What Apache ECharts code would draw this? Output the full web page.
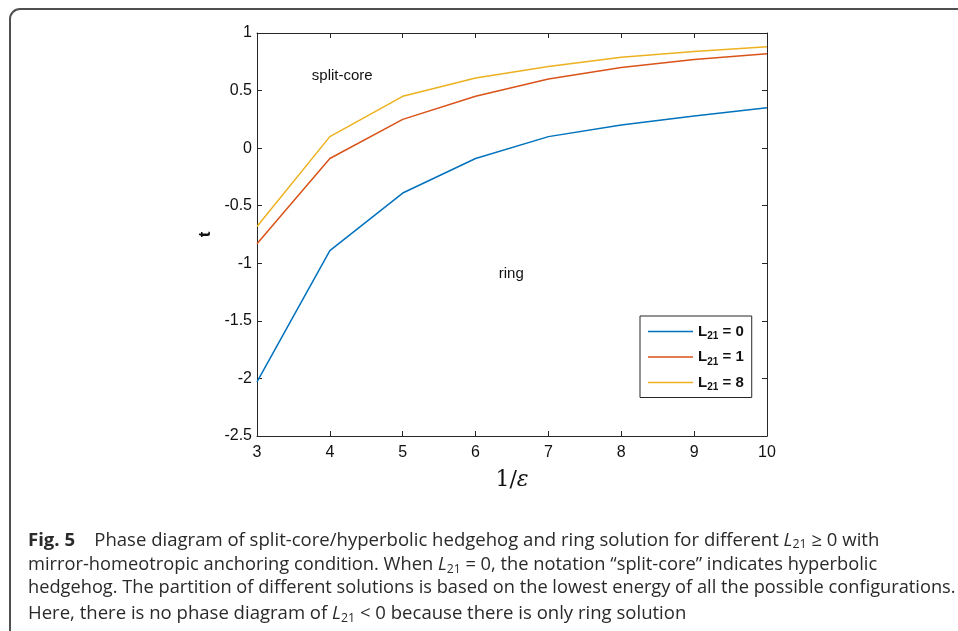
<!DOCTYPE html>
<html>
<head>
<meta charset="utf-8">
<script src="https://cdn.jsdelivr.net/npm/echarts@6/dist/echarts.min.js"></script>
<style>
html,body{margin:0;padding:0;background:#fff;}
#chart{width:958px;height:631px;}
</style>
</head>
<body>
<div id="chart"></div>
<script>
// ---- data ----
var xValues = [3, 4, 5, 6, 7, 8, 9, 10];
var tL0 = [-2.03, -0.89, -0.39, -0.09, 0.10, 0.20, 0.28, 0.35];
var tL1 = [-0.83, -0.09, 0.25, 0.45, 0.60, 0.70, 0.77, 0.82];
var tL8 = [-0.68, 0.10, 0.45, 0.61, 0.71, 0.79, 0.84, 0.88];
var seriesNames = ['L21 = 0', 'L21 = 1', 'L21 = 8'];
var seriesColors = ['#0072BD', '#D95319', '#EDB120'];
var regionLabels = [
  { name: 'split-core', coord: [4.17, 0.625] },
  { name: 'ring', coord: [6.49, -1.095] }
];
var captionLines = [
  '{b|Fig. 5}    Phase diagram of split-core/hyperbolic hedgehog and ring solution for different {i|L}{s|21} ≥ 0 with',
  'mirror-homeotropic anchoring condition. When {i|L}{s|21} = 0, the notation “split-core” indicates hyperbolic',
  'hedgehog. The partition of different solutions is based on the lowest energy of all the possible configurations.',
  'Here, there is no phase diagram of {i|L}{s|21} < 0 because there is only ring solution'
];
// horizontal stretch per caption line (style only)
var captionStretch = [1.03, 1.016, 1.013, 1.03];

function pairs(ys) { return xValues.map(function (x, i) { return [x, ys[i]]; }); }
var allData = [tL0, tL1, tL8];

var chart = echarts.init(document.getElementById('chart'), null, { renderer: 'canvas' });
var axisColor = '#262626';
var labelFont = { fontFamily: 'Liberation Sans, Arial, sans-serif', fontSize: 16, color: '#111111' };

var series = allData.map(function (d, i) {
  var s = {
    name: seriesNames[i],
    type: 'line',
    data: pairs(d),
    symbol: 'none',
    lineStyle: { color: seriesColors[i], width: 1.5 },
    itemStyle: { color: seriesColors[i] },
    animation: false
  };
  if (i === 0) {
    s.markPoint = {
      symbol: 'rect',
      symbolSize: 0,
      animation: false,
      label: {
        show: true, position: 'inside', formatter: '{b}',
        fontFamily: 'Liberation Sans, Arial, sans-serif', fontSize: 15, color: '#111111'
      },
      data: regionLabels.map(function (r) { return { name: r.name, coord: r.coord }; })
    };
  }
  return s;
});

var captionGraphics = captionLines.map(function (t, i) {
  return {
    type: 'text',
    x: 28,
    y: 530 + i * 24.6,
    scaleX: captionStretch[i],
    style: {
      text: t,
      font: '18px "Open Sans"',
      fill: '#2a2a2a',
      rich: {
        b: { fontFamily: 'Open Sans', fontSize: 18, fontWeight: 'bold', fill: '#2a2a2a' },
        i: { fontFamily: 'Open Sans', fontSize: 18, fontStyle: 'italic', fill: '#2a2a2a' },
        s: { fontFamily: 'Open Sans', fontSize: 12, fill: '#2a2a2a', padding: [9, 0, 0, 0] }
      }
    }
  };
});

var option = {
  backgroundColor: '#ffffff',
  animation: false,
  grid: { left: 257, top: 33, width: 510, height: 403, containLabel: false },
  xAxis: [{
    type: 'value', min: 3, max: 10, interval: 1, position: 'bottom',
    name: '1/{e|ε}', nameLocation: 'middle', nameGap: 33,
    nameTextStyle: {
      fontFamily: 'DejaVu Serif, Liberation Serif, serif', fontSize: 22, color: '#111111',
      rich: { e: { fontFamily: 'DejaVu Serif, Liberation Serif, serif', fontSize: 22, fontStyle: 'italic', color: '#111111' } }
    },
    axisLine: { show: true, onZero: false, lineStyle: { color: axisColor, width: 1 } },
    axisTick: { show: true, inside: true, length: 5, lineStyle: { color: axisColor } },
    axisLabel: Object.assign({ margin: 9 }, labelFont),
    splitLine: { show: false }
  }, {
    type: 'value', min: 3, max: 10, interval: 1, position: 'top',
    axisLine: { show: true, onZero: false, lineStyle: { color: axisColor, width: 1 } },
    axisTick: { show: true, inside: true, length: 5, lineStyle: { color: axisColor } },
    axisLabel: { show: false },
    splitLine: { show: false }
  }],
  yAxis: [{
    type: 'value', min: -2.5, max: 1, interval: 0.5, position: 'left',
    name: 't', nameLocation: 'middle', nameGap: 43,
    nameTextStyle: { fontFamily: 'Liberation Sans, Arial, sans-serif', fontSize: 17, fontWeight: 'bold', color: '#111111' },
    axisLine: { show: true, onZero: false, lineStyle: { color: axisColor, width: 1 } },
    axisTick: { show: true, inside: true, length: 5, lineStyle: { color: axisColor } },
    axisLabel: Object.assign({ margin: 5 }, labelFont),
    splitLine: { show: false }
  }, {
    type: 'value', min: -2.5, max: 1, interval: 0.5, position: 'right',
    axisLine: { show: true, onZero: false, lineStyle: { color: axisColor, width: 1 } },
    axisTick: { show: true, inside: true, length: 5, lineStyle: { color: axisColor } },
    axisLabel: { show: false },
    splitLine: { show: false }
  }],
  legend: {
    orient: 'vertical',
    left: 640, top: 316,
    backgroundColor: '#ffffff',
    borderColor: axisColor, borderWidth: 1, borderRadius: 0,
    padding: [8, 8, 5, 8],
    itemGap: 8,
    itemWidth: 45, itemHeight: 1.5,
    icon: 'rect',
    data: seriesNames,
    formatter: function (n) { var v = n.split('= ')[1]; return 'L{s|21} = ' + v; },
    textStyle: {
      fontFamily: 'Liberation Sans, Arial, sans-serif', fontSize: 15, fontWeight: 'bold', color: '#111111',
      rich: { s: { fontFamily: 'Liberation Sans, Arial, sans-serif', fontSize: 10, fontWeight: 'bold', color: '#111111', padding: [10, 0, 0, 0] } }
    }
  },
  graphic: [{
    type: 'rect',
    shape: { x: 10, y: 9, width: 1000, height: 700, r: 10 },
    style: { fill: 'none', stroke: '#505050', lineWidth: 2 },
    silent: true
  }].concat(captionGraphics),
  series: series
};
chart.setOption(option);
</script>
</body>
</html>
